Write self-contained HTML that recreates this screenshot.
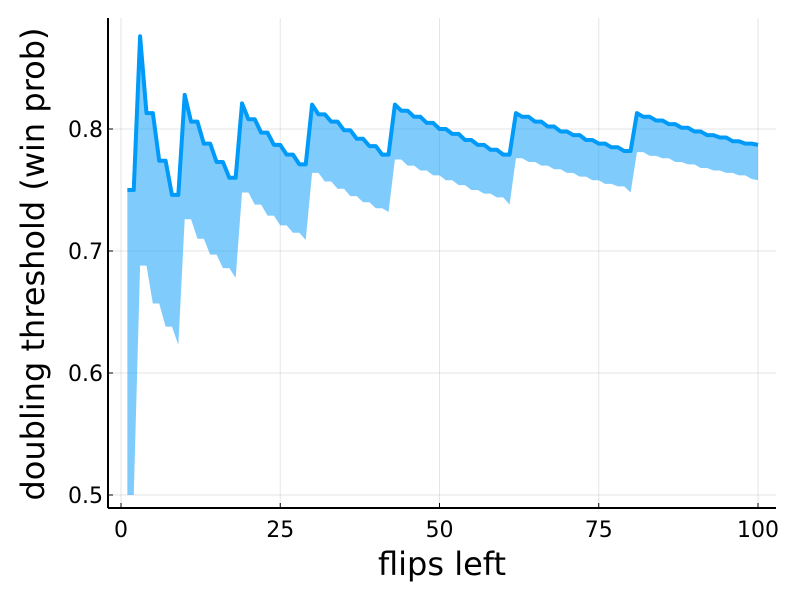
<!DOCTYPE html>
<html><head><meta charset="utf-8"><style>
body{margin:0;background:#fff}
svg{display:block;font-family:"DejaVu Sans","Liberation Sans",sans-serif}
</style></head><body>
<svg id="chart" width="800" height="600">
<rect width="800" height="600" fill="#fff"/>
<g id="grid"></g>
<g id="series"></g>
<g id="axes"></g>
<text x="442" y="575" font-size="32" text-anchor="middle" fill="#000">flips left</text>
<text transform="translate(44,264) rotate(-90)" font-size="32" text-anchor="middle" fill="#000">doubling threshold (win prob)</text>
</svg>
<script>
const xTicks=[0,25,50,75,100];
const yTicks=[0.5,0.6,0.7,0.8];
const yTickLabels=["0.5","0.6","0.7","0.8"];
const upper=[.750,.750,.876,.813,.813,.774,.774,.746,.746,
.828,.806,.806,.788,.788,.773,.773,.760,.760,
.821,.808,.808,.797,.797,.787,.787,.779,.779,.771,.771,
.820,.812,.812,.806,.806,.799,.799,.792,.792,.786,.786,.779,.779,
.820,.815,.815,.810,.810,.805,.805,.800,.800,.796,.796,.791,.791,.787,.787,.783,.783,.779,.779,
.813,.810,.810,.806,.806,.802,.802,.798,.798,.795,.795,.791,.791,.788,.788,.785,.785,.782,.782,
.813,.810,.810,.807,.807,.804,.804,.801,.801,.798,.798,.795,.795,.793,.793,.790,.790,.788,.788,.787];
const lower=[.500,.500,.688,.688,.657,.657,.638,.638,.623,
.726,.726,.710,.710,.697,.697,.686,.686,.678,
.748,.748,.738,.738,.729,.729,.721,.721,.715,.715,.709,
.764,.764,.757,.757,.751,.751,.745,.745,.740,.740,.735,.735,.732,
.775,.775,.770,.770,.766,.766,.762,.762,.758,.758,.754,.754,.750,.750,.747,.747,.744,.744,.738,
.776,.776,.773,.773,.770,.770,.767,.767,.764,.764,.761,.761,.758,.758,.755,.755,.753,.753,.748,
.781,.781,.778,.778,.776,.776,.773,.773,.771,.771,.768,.768,.766,.766,.764,.764,.762,.762,.759,.758];
const flips=upper.map((_,i)=>i+1);
const NS="http://www.w3.org/2000/svg";
const L=108,R=776,T=18,B=508;
const sx=v=>121+(v-0)*(758-121)/100;
const sy=v=>129-(v-0.8)*1220;
function mk(tag,attrs,parent){const e=document.createElementNS(NS,tag);for(const k in attrs)e.setAttribute(k,attrs[k]);parent.appendChild(e);return e;}
const grid=document.getElementById('grid'),series=document.getElementById('series'),axes=document.getElementById('axes');
xTicks.forEach(t=>{
 const g=mk('line',{x1:sx(t),x2:sx(t),y1:T,y2:B,stroke:'#000','stroke-opacity':0.1,'stroke-width':1},grid);
 
 
 const tk=mk('line',{x1:sx(t),x2:sx(t),y1:B,y2:B-5,stroke:'#000','stroke-width':1},axes);
 
 
 const tx=mk('text',{x:sx(t),y:537,'font-size':22,'text-anchor':'middle',fill:'#000'},axes);
 tx.textContent=String(t);
 
 
});
yTicks.forEach((t,i)=>{
 const g=mk('line',{x1:L,x2:R,y1:sy(t),y2:sy(t),stroke:'#000','stroke-opacity':0.1,'stroke-width':1},grid);
 
 
 const tk=mk('line',{x1:L,x2:L+5,y1:sy(t),y2:sy(t),stroke:'#000','stroke-width':1},axes);
 
 
 const tx=mk('text',{x:L-5,y:sy(t)+8,'font-size':22,'text-anchor':'end',fill:'#000'},axes);
 tx.textContent=yTickLabels[i];
 
 
});
let d='M'+flips.map((x,i)=>sx(x)+','+sy(upper[i])).join(' L');
for(let i=flips.length-1;i>=0;i--)d+=' L'+sx(flips[i])+','+sy(lower[i]);
const rib=mk('path',{d:d+'Z',fill:'#009af9','fill-opacity':0.5,stroke:'none'},series);


const ln=mk('polyline',{points:flips.map((x,i)=>sx(x)+','+sy(upper[i])).join(' '),fill:'none',stroke:'#009af9','stroke-width':4,'stroke-linejoin':'round'},series);


const xa=mk('line',{x1:L,x2:R,y1:B,y2:B,stroke:'#000','stroke-width':2},axes);


const ya=mk('line',{x1:L,x2:L,y1:T,y2:B,stroke:'#000','stroke-width':2},axes);


</script>
</body></html>
